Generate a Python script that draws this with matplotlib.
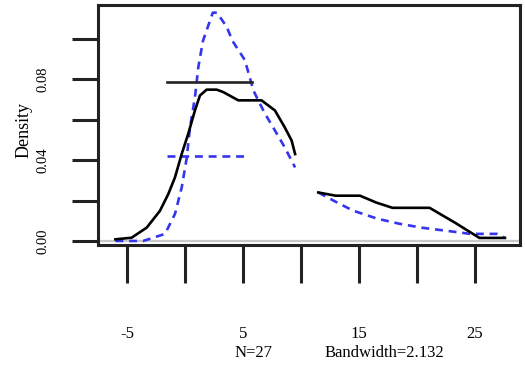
import matplotlib
matplotlib.use("Agg")
import matplotlib.pyplot as plt

# density estimate, split where the original has a blank gap
black_x_left = [-6.0, -4.6, -3.3, -2.16, -1.44, -0.86, -0.28, 0.28, 0.86, 1.29, 1.87, 2.73, 3.3,
                4.6, 6.6, 7.76, 8.6, 9.2, 9.5]
black_y_left = [0.0008, 0.0016, 0.0066, 0.0149, 0.0232, 0.0315, 0.0431, 0.053, 0.0646, 0.072,
                0.0749, 0.0749, 0.0737, 0.0696, 0.0696, 0.0646, 0.0563, 0.0497, 0.043]
black_x_right = [11.5, 13.0, 15.1, 16.5, 17.9, 21.1, 23.3, 25.4, 27.6]
black_y_right = [0.024, 0.0224, 0.0224, 0.019, 0.0164, 0.0164, 0.009, 0.0015, 0.0015]

blue_x_left = [-6.0, -3.6, -1.72, -0.86, -0.28, 0.15, 0.43, 0.86, 1.15, 1.55, 2.4, 2.76, 3.6,
               4.1, 5.17, 5.9, 6.2, 6.9, 7.76, 8.6, 9.5]
blue_y_left = [0.0, 0.0, 0.0035, 0.0134, 0.0265, 0.041, 0.056, 0.071, 0.086, 0.099, 0.113, 0.113,
               0.106, 0.099, 0.0895, 0.0745, 0.071, 0.063, 0.0547, 0.0464, 0.0364]
blue_x_right = [11.5, 12.8, 14.5, 16.6, 18.5, 20.5, 22.6, 24.6, 26.9, 27.6]
blue_y_right = [0.024, 0.020, 0.015, 0.011, 0.0085, 0.0065, 0.005, 0.0035, 0.0035, 0.0015]

# the two flat reference segments
black_level = 0.0787
black_span = [-1.58, 5.75]
blue_level = 0.0419
blue_span = [-1.58, 5.3]

x_ticks = [-5, 0, 5, 10, 15, 20, 25]
x_labels = ["-5", "", "5", "", "15", "", "25"]
y_ticks = [0.00, 0.02, 0.04, 0.06, 0.08, 0.10]
y_labels = ["0.00", "", "0.04", "", "0.08", ""]

plt.rcParams["font.family"] = ["Liberation Serif", "DejaVu Serif"]

fig = plt.figure(figsize=(5.25, 3.65), dpi=100)
ax = fig.add_axes([0.1867, 0.3288, 0.8038, 0.6575])

blue = "#3535ee"
ax.axhline(0, color="#c8c8c8", lw=1.6, zorder=1)

ax.plot(blue_x_left, blue_y_left, color=blue, lw=1.9, dashes=(3, 2.2), zorder=2)
ax.plot(blue_x_right, blue_y_right, color=blue, lw=1.9, dashes=(3, 2.2), zorder=2)
ax.plot(blue_span, [blue_level, blue_level], color=blue, lw=1.9, dashes=(3, 2.2), zorder=2)

ax.plot(black_x_left, black_y_left, color="black", lw=1.9, zorder=3)
ax.plot(black_x_right, black_y_right, color="black", lw=1.9, zorder=3)
ax.plot(black_span, [black_level, black_level], color="#222222", lw=1.9, zorder=3)

ax.set_xlim(-7.5, 28.9)
ax.set_ylim(-0.002, 0.1168)

for s in ax.spines.values():
    s.set_linewidth(2.2)
    s.set_color("#222222")

ax.set_xticks(x_ticks)
ax.set_xticklabels(x_labels, fontsize=12)
ax.set_yticks(y_ticks)
ax.set_yticklabels(y_labels, fontsize=10.5, rotation=90, va="center")
ax.tick_params(axis="x", direction="out", length=27, width=2.2, pad=31, color="#222222")
ax.tick_params(axis="y", direction="out", length=19, width=2.2, pad=16, color="#222222")

ax.set_ylabel("Density", fontsize=13)
ax.yaxis.set_label_coords(-0.156, 0.48)

fig.text(0.482, 0.033, "N=27", ha="center", va="center", fontsize=12)
fig.text(0.733, 0.033, "Bandwidth=2.132", ha="center", va="center", fontsize=12)

fig.savefig("out.png", dpi=100)
